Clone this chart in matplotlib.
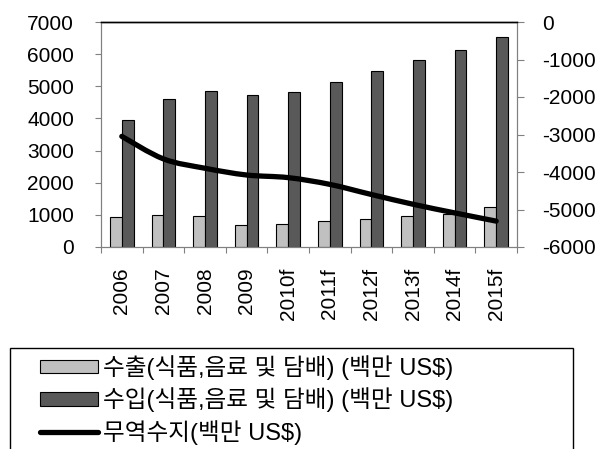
import matplotlib
matplotlib.use("Agg")
import matplotlib.pyplot as plt
import numpy as np
from matplotlib.path import Path
import matplotlib.patches as patches
from matplotlib.lines import Line2D

plt.rcParams["font.family"] = ["Liberation Sans", "Noto Sans CJK KR", "DejaVu Sans"]
plt.rcParams["axes.unicode_minus"] = False

years = ["2006", "2007", "2008", "2009", "2010f", "2011f", "2012f", "2013f", "2014f", "2015f"]
exports = [920, 1010, 960, 670, 720, 800, 880, 980, 1040, 1250]
imports = [3950, 4600, 4860, 4730, 4820, 5120, 5480, 5820, 6120, 6540]
balance = [-3050, -3650, -3900, -4080, -4150, -4330, -4600, -4860, -5090, -5310]

labels = ["수출(식품,음료 및 담배) (백만 US$)",
          "수입(식품,음료 및 담배) (백만 US$)",
          "무역수지(백만 US$)"]

W, H = 605, 449
fig = plt.figure(figsize=(W / 100, H / 100), dpi=100)
ax = fig.add_axes([101 / W, 1 - 247 / H, (517 - 101) / W, (247 - 22) / H])
ax2 = ax.twinx()

x = np.arange(len(years))
bw = 0.285
ax.bar(x - bw / 2, exports, bw, color="#c0c0c0", edgecolor="black", linewidth=0.8, zorder=2)
ax.bar(x + bw / 2, imports, bw, color="#595959", edgecolor="black", linewidth=0.8, zorder=2)


def smooth_path(xs, ys, t=1 / 6):
    # excel-like smoothed line, catmull-rom as cubic bezier segments
    pts = np.column_stack([xs, ys]).astype(float)
    verts = [pts[0]]
    codes = [Path.MOVETO]
    n = len(pts)
    for i in range(n - 1):
        p0 = pts[max(i - 1, 0)]
        p1 = pts[i]
        p2 = pts[i + 1]
        p3 = pts[min(i + 2, n - 1)]
        c1 = p1 + (p2 - p0) * t
        c2 = p2 - (p3 - p1) * t
        verts += [c1, c2, p2]
        codes += [Path.CURVE4] * 3
    return Path(verts, codes)


line_patch = patches.PathPatch(smooth_path(x, balance), facecolor="none", edgecolor="black",
                               linewidth=3.8, capstyle="round", joinstyle="round", zorder=3)
ax2.add_patch(line_patch)

ax.set_xlim(-0.5, len(years) - 0.5)
ax.set_ylim(0, 7000)
ax2.set_ylim(-6000, 0)
ax.set_yticks(range(0, 7001, 1000))
ax2.set_yticks(range(-6000, 1, 1000))

ax.set_xticks(x)
ax.set_xticklabels(years, rotation=90, va="top", ha="center")
ax.set_xticks(np.arange(-0.5, len(years), 1), minor=True)
ax.tick_params(axis="x", which="major", length=0, pad=15, labelsize=15)
ax.tick_params(axis="x", which="minor", length=4.5, width=0.8, color="#808080")
ax.tick_params(axis="y", length=4.5, width=0.8, color="#808080", pad=15, labelsize=15)
ax2.tick_params(axis="y", length=5, width=0.8, color="#808080", pad=13, labelsize=15)

for a in (ax, ax2):
    for s in ("left", "right", "bottom"):
        a.spines[s].set_color("#808080")
        a.spines[s].set_linewidth(0.8)
    a.spines["top"].set_color("black")
    a.spines["top"].set_linewidth(1.0)

# legend frame runs past the bottom edge of the picture
frame = patches.Rectangle((10 / W, -0.1), (573 - 10) / W, 0.1 + (H - 348) / H,
                          transform=fig.transFigure, facecolor="white", edgecolor="black",
                          linewidth=1.0, zorder=0)
fig.add_artist(frame)

handles = [patches.Patch(facecolor="#c0c0c0", edgecolor="black", linewidth=0.8),
           patches.Patch(facecolor="#595959", edgecolor="black", linewidth=0.8),
           Line2D([], [], color="black", linewidth=3.8, solid_capstyle="round")]
leg = fig.legend(handles, labels, loc="upper left",
                 bbox_to_anchor=(40 / W, 1 - 355 / H),
                 fontsize=17, handlelength=2.45, handleheight=0.5, handletextpad=0.21,
                 labelspacing=0.32, borderpad=0, borderaxespad=0, frameon=False)

fig.savefig("out.png", dpi=100)
